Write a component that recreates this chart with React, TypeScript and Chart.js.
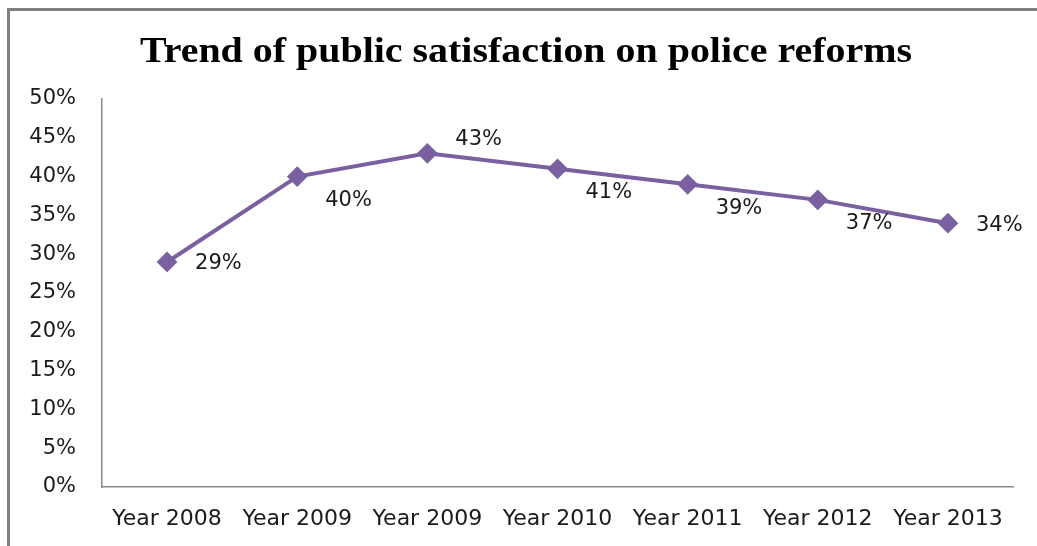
import React, { useEffect, useRef } from "react";
import { Chart, registerables } from "chart.js";

Chart.register(...registerables);

const categories = ["Year 2008", "Year 2009", "Year 2009", "Year 2010", "Year 2011", "Year 2012", "Year 2013"];
const satisfaction = [29, 40, 43, 41, 39, 37, 34];
const labelPlacement = ["right", "below", "above", "below", "below", "below", "right"];
const yTicks = [0, 5, 10, 15, 20, 25, 30, 35, 40, 45, 50];
const titleText = "Trend of public satisfaction on police reforms";

const LINE_COLOR = "#7b60a1";
const TEXT_COLOR = "#1a1a1a";
const AXIS_COLOR = "#8a8a8a";
const SANS = "'DejaVu Sans', Verdana, sans-serif";
const SERIF = "'Liberation Serif', 'Times New Roman', serif";

const placementDy: Record<string, number> = { right: 2, below: 24, above: -14 };

const dataLabelPlugin = {
  id: "dataLabels",
  afterDatasetsDraw(chart: any) {
    const ctx = chart.ctx;
    const meta = chart.getDatasetMeta(0);
    ctx.save();
    ctx.font = `21px ${SANS}`;
    ctx.fillStyle = TEXT_COLOR;
    ctx.textAlign = "left";
    ctx.textBaseline = "middle";
    meta.data.forEach((pt: any, i: number) => {
      const dy = placementDy[labelPlacement[i]] ?? 0;
      ctx.fillText(`${satisfaction[i]}%`, pt.x + 28, pt.y + dy);
    });
    ctx.restore();
  },
};

const titlePlugin = {
  id: "stretchedTitle",
  afterDraw(chart: any) {
    const ctx = chart.ctx;
    ctx.save();
    ctx.font = `bold 35px ${SERIF}`;
    ctx.fillStyle = "#000";
    ctx.textAlign = "center";
    ctx.textBaseline = "alphabetic";
    const w = ctx.measureText(titleText).width;
    const sx = 772 / w;
    ctx.translate(526, 62);
    ctx.scale(sx, 1);
    ctx.fillText(titleText, 0, 0);
    ctx.restore();
  },
};

export default function App() {
  const canvasRef = useRef<HTMLCanvasElement | null>(null);

  useEffect(() => {
    if (!canvasRef.current) return;
    const chart = new Chart(canvasRef.current, {
      type: "line",
      data: {
        labels: categories,
        datasets: [
          {
            data: satisfaction,
            borderColor: LINE_COLOR,
            backgroundColor: LINE_COLOR,
            borderWidth: 4,
            pointStyle: "rectRot",
            pointRadius: 9,
            pointBorderWidth: 2,
            pointBorderColor: LINE_COLOR,
            pointBackgroundColor: LINE_COLOR,
            tension: 0,
            fill: false,
          },
        ],
      },
      options: {
        responsive: false,
        animation: false,
        layout: { padding: { left: 0, right: 24, top: 99, bottom: 0 } },
        plugins: {
          legend: { display: false },
          tooltip: { enabled: false },
          title: { display: false },
        },
        scales: {
          x: {
            type: "category",
            offset: true,
            grid: { display: false, drawTicks: false },
            border: { display: true, color: AXIS_COLOR, width: 1.5 },
            ticks: {
              color: TEXT_COLOR,
              font: { family: SANS, size: 22 },
              padding: 19,
              maxRotation: 0,
              autoSkip: false,
            },
            afterFit: (s: any) => {
              s.height = 59;
            },
          },
          y: {
            type: "linear",
            min: 0,
            max: 50,
            afterBuildTicks: (s: any) => {
              s.ticks = yTicks.map((v) => ({ value: v }));
            },
            grid: { display: false, drawTicks: false },
            border: { display: true, color: AXIS_COLOR, width: 1.5 },
            ticks: {
              color: TEXT_COLOR,
              font: { family: SANS, size: 21 },
              padding: 26,
              callback: (v: any) => `${v}%`,
            },
            afterFit: (s: any) => {
              s.width = 102;
            },
          },
        },
      },
      plugins: [dataLabelPlugin, titlePlugin],
    });
    return () => chart.destroy();
  }, []);

  return (
    <div style={{ position: "fixed", left: 0, top: 0, width: 1037, height: 546, background: "#fff", overflow: "hidden" }}>
      <div
        style={{
          position: "absolute",
          left: 7,
          top: 8,
          width: 1040,
          height: 560,
          borderTop: "3px solid #7f7f7f",
          borderLeft: "3px solid #7f7f7f",
          boxSizing: "border-box",
        }}
      />
      <canvas ref={canvasRef} width={1037} height={546} style={{ position: "absolute", left: 0, top: 0 }} />
    </div>
  );
}
